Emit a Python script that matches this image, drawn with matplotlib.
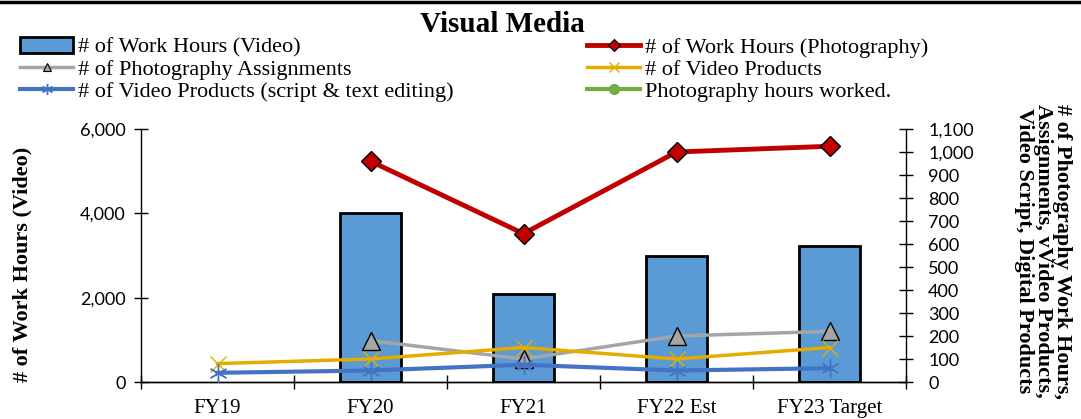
import numpy as np
import matplotlib
matplotlib.use("Agg")
import matplotlib.pyplot as plt
from matplotlib.lines import Line2D
from matplotlib.patches import Patch

categories = ["FY19", "FY20", "FY21", "FY22 Est", "FY23 Target"]
video_hours = [np.nan, 4000, 2080, 3000, 3230]
photo_hours = [np.nan, 960, 645, 1000, 1025]
photo_assignments = [np.nan, 180, 100, 200, 220]
video_products = [80, 100, 150, 100, 150]
video_script = [40, 50, 75, 50, 60]
left_ticks = [0, 2000, 4000, 6000]
right_ticks = list(range(0, 1101, 100))

SERIF = "Liberation Serif"
SANS = "Lato"

C_BAR = "#5B9BD5"
C_RED = "#C00000"
C_GRAY = "#A5A5A5"
C_GOLD = "#E5AC00"
C_BLUE = "#4472C4"
C_GREEN = "#70AD47"

fig = plt.figure(figsize=(10.81, 4.19), dpi=100)
ax = fig.add_axes([141/1081, 1-382/419, (906-141)/1081, (382-129)/419])
ax2 = ax.twinx()

x = np.arange(len(categories))
ax.bar(x, video_hours, width=0.4, color=C_BAR, edgecolor="black", linewidth=2, zorder=2)
ax.set_xlim(-0.5, len(categories)-0.5)
ax.set_ylim(0, 6000)
ax.set_yticks(left_ticks)
ax.set_yticklabels([f"{v:,}" for v in left_ticks], fontfamily=SANS, fontsize=13)
ax.set_xticks(x)
ax.set_xticklabels(categories, fontfamily=SERIF, fontsize=15)
ax.set_xticks(np.arange(-0.5, len(categories)), minor=True)
ax.tick_params(axis="x", which="major", length=0, pad=12)
ax.tick_params(axis="x", which="minor", length=10, direction="inout", width=1)
ax.tick_params(axis="y", length=10, direction="inout", width=1, pad=6)

ax2.plot(x, photo_hours, color=C_RED, lw=3.5, marker="D", ms=10, mfc=C_RED, mec="black", mew=1, zorder=5)
ax2.plot(x, photo_assignments, color=C_GRAY, lw=2.5, marker="^", ms=13, mfc=C_GRAY, mec="black", mew=1, zorder=4)
ax2.plot(x, video_products, color=C_GOLD, lw=2.5, marker="x", ms=11, mew=1, zorder=4)
ax2.plot(x, video_script, color=C_BLUE, lw=3, marker=(6, 2, 0), ms=13, mew=1, mec=C_BLUE, zorder=4)
ax2.set_ylim(0, 1100)
ax2.set_yticks(right_ticks)
ax2.set_yticklabels([f"{v:,}" for v in right_ticks], fontfamily=SANS, fontsize=13)
ax2.tick_params(axis="y", length=10, direction="inout", width=1, pad=11)

for a in (ax, ax2):
    a.spines["top"].set_visible(False)
    for s in ("left", "right", "bottom"):
        a.spines[s].set_color("black")
        a.spines[s].set_linewidth(1)
ax2.spines["left"].set_visible(False)
ax.spines["right"].set_visible(False)

fig.text(22/1081, 1-264/419, "# of Work Hours (Video)", rotation=90, ha="center", va="center",
         fontfamily=SERIF, fontweight="bold", fontsize=16)
fig.text(1043/1081, 1-251/419,
         "# of Photography Work Hours,\nAssignments, vVideo Products,\nVideo Script, Digital Products",
         rotation=270, ha="center", va="center", multialignment="center",
         fontfamily=SERIF, fontweight="bold", fontsize=16, linespacing=0.95)

fig.text(502/1081, 1-25/419, "Visual Media", ha="center", va="center",
         fontfamily=SERIF, fontweight="bold", fontsize=21)

h_bar = Patch(facecolor=C_BAR, edgecolor="black", linewidth=2)
h_red = Line2D([], [], color=C_RED, lw=3.5, marker="D", ms=6, mfc=C_RED, mec="black", mew=0.8)
h_gray = Line2D([], [], color=C_GRAY, lw=2.5, marker="^", ms=6, mfc=C_GRAY, mec="black", mew=0.8)
h_gold = Line2D([], [], color=C_GOLD, lw=2.5, marker="x", ms=7, mew=1)
h_blue = Line2D([], [], color=C_BLUE, lw=3, marker=(6, 2, 0), ms=8, mew=1, mec=C_BLUE)
h_green = Line2D([], [], color=C_GREEN, lw=3, marker="o", ms=7, mfc=C_GREEN, mec=C_GREEN)

leg_kw = dict(frameon=False, borderpad=0, borderaxespad=0, handlelength=2.4, handletextpad=0.22,
              labelspacing=0.08, prop={"family": SERIF, "size": 16}, loc="upper left")
fig.legend([h_bar, h_gray, h_blue],
           ["# of Work Hours (Video)", "# of Photography Assignments",
            "# of Video Products (script & text editing)"],
           bbox_to_anchor=(20/1081, 1-37/419), **leg_kw)
fig.legend([h_red, h_gold, h_green],
           ["# of Work Hours (Photography)", "# of Video Products", "Photography hours worked."],
           bbox_to_anchor=(587/1081, 1-37/419), **leg_kw)

fig.add_artist(Line2D([0, 1], [1-2.5/419, 1-2.5/419], transform=fig.transFigure, color="black", lw=2.5))

fig.savefig("out.png", dpi=100)
